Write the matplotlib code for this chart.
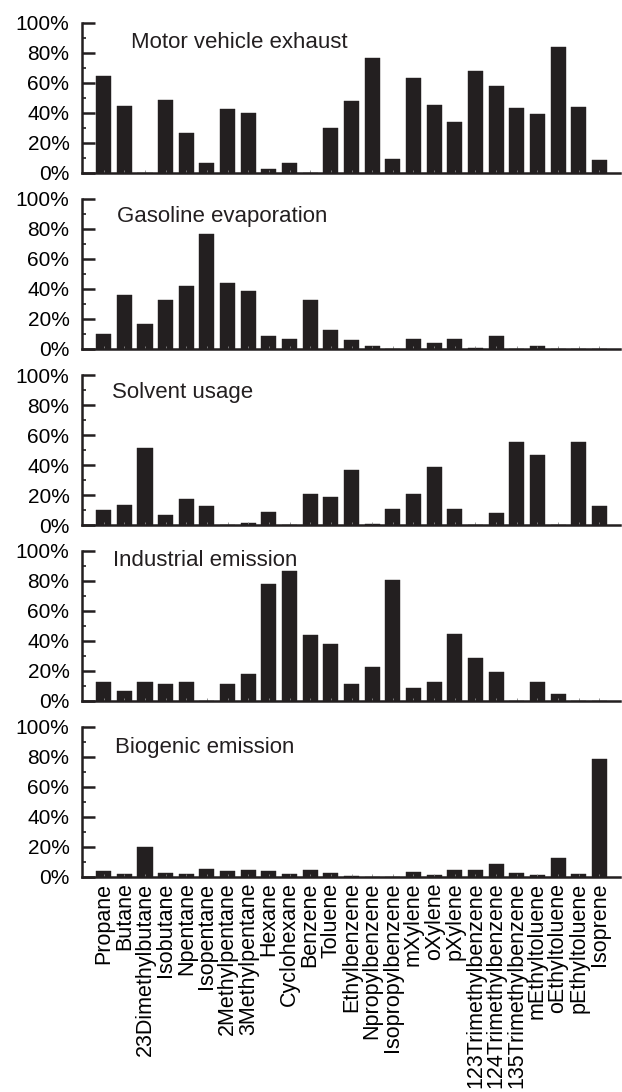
import matplotlib.pyplot as plt
import numpy as np
from matplotlib.ticker import MultipleLocator, FuncFormatter

plt.rcParams['font.family'] = ['Liberation Sans', 'DejaVu Sans']

# %% Données

especes = ['Propane', 'Butane', '23Dimethylbutane', 'Isobutane', 'Npentane',
           'Isopentane', '2Methylpentane', '3Methylpentane', 'Hexane',
           'Cyclohexane', 'Benzene', 'Toluene', 'Ethylbenzene',
           'Npropylbenzene', 'Isopropylbenzene', 'mXylene', 'oXylene',
           'pXylene', '123Trimethylbenzene', '124Trimethylbenzene',
           '135Trimethylbenzene', 'mEthyltoluene', 'oEthyltoluene',
           'pEthyltoluene', 'Isoprene']

sources = ['Motor vehicle exhaust', 'Gasoline evaporation', 'Solvent usage',
           'Industrial emission', 'Biogenic emission']

vehicule = [65, 45, 0, 49, 27, 6.5, 43, 40, 3, 6.5, 0, 30, 48, 77, 9.5, 63.5,
            45.5, 34, 68, 58, 43.5, 39.5, 84, 44, 9]
essence = [10, 36, 17, 32.5, 42, 77, 44, 38.5, 9, 7, 33, 13, 6, 2, 0, 7, 4,
           7, 1, 9, 0, 2, 0, 0, 0]
solvant = [10, 13.5, 51.5, 7, 17.5, 12.5, 0, 1.3, 9, 0, 20.5, 18.5, 36.5, 0.7,
           11, 20.5, 39, 11, 0, 8, 55.5, 46.5, 0, 55.5, 13]
industrie = [13, 6.5, 13, 11.5, 13, 0, 11.5, 18, 78, 86.5, 44, 38, 11.5, 22.5,
             81, 9, 13, 45, 28.5, 19.5, 0, 13, 5, 0, 0]
biogenique = [4, 1.8, 20, 2.7, 2, 5.3, 4, 4.4, 3.8, 2, 4.4, 2.7, 0.9, 0.2, 0.2,
              3.1, 1.3, 4.7, 4.9, 8.4, 2.7, 1.6, 12.7, 2.2, 79]

valeurs = [vehicule, essence, solvant, industrie, biogenique]
# position des titres (fraction des axes)
pos_titre = [(0.091, 0.87), (0.065, 0.885), (0.055, 0.883), (0.058, 0.94),
             (0.062, 0.86)]

# %% Figure

fig = plt.figure(figsize=(6.22, 10.92), dpi=100)
x = np.arange(len(especes))

for k, (nom, v) in enumerate(zip(sources, valeurs)):
    haut = 23 + 176 * k
    ax = fig.add_axes([82 / 622, 1 - (haut + 150) / 1092, 538 / 622, 150 / 1092])
    ax.bar(x, v, width=0.73, color='#231f20', edgecolor='#231f20', linewidth=0.3)
    ax.set(xlim=(-1.05, 25), ylim=(0, 100))
    for s in ['top', 'right']:
        ax.spines[s].set_visible(False)
    for s in ['left', 'bottom']:
        ax.spines[s].set_linewidth(1.8)
        ax.spines[s].set_color('#231f20')
    ax.yaxis.set_major_locator(MultipleLocator(20))
    ax.yaxis.set_minor_locator(MultipleLocator(10))
    ax.yaxis.set_major_formatter(FuncFormatter(lambda t, p: '%d%%' % t))
    ax.tick_params(axis='y', which='major', direction='in', length=9, width=1.8,
                   labelsize=15, pad=9, color='#231f20')
    ax.tick_params(axis='y', which='minor', direction='in', length=3, width=1.2,
                   color='#231f20')
    ax.set_xticks(x)
    ax.tick_params(axis='x', direction='in', length=2, width=0.6, color='#888888')
    if k == len(sources) - 1:
        ax.set_xticklabels(especes, rotation=90, fontsize=15.5)
        ax.tick_params(axis='x', pad=4)
    else:
        ax.set_xticklabels([])
    ax.text(pos_titre[k][0], pos_titre[k][1], nom, transform=ax.transAxes,
            fontsize=16, va='center', ha='left', color='#231f20')

plt.savefig('out.png', dpi=100)
